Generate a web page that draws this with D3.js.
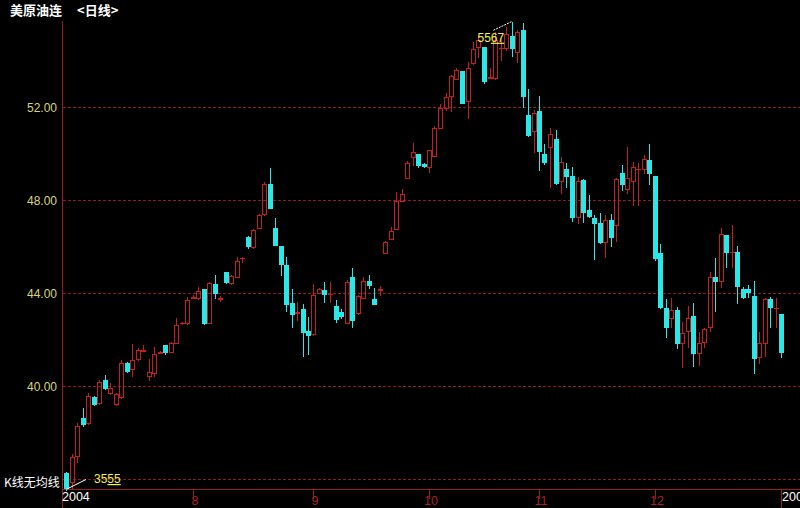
<!DOCTYPE html>
<html><head><meta charset="utf-8">
<script src="https://cdn.jsdelivr.net/npm/d3@7/dist/d3.min.js"></script>
<style>html,body{margin:0;padding:0;background:#000;overflow:hidden}</style>
</head><body><svg id="c" width="800" height="508"></svg>
<script>
const opens=[36.26,35.87,36.99,38.62,38.41,39.53,39.27,40.26,39.70,39.23,39.53,40.99,40.73,41.16,41.52,40.43,40.56,41.44,41.76,41.46,41.85,42.70,42.71,43.80,43.78,44.17,42.71,44.39,43.76,44.90,44.43,44.69,45.50,46.42,45.98,46.79,47.39,48.68,46.79,46.02,45.20,43.57,43.16,43.31,42.36,42.24,44.00,44.13,43.95,43.44,43.18,42.71,44.69,43.14,43.78,44.51,43.74,44.15,45.72,46.32,46.75,47.95,48.94,49.85,49.97,49.54,49.42,49.89,51.09,51.95,52.47,53.20,53.54,52.25,53.89,54.57,54.57,53.26,53.24,54.52,54.53,55.05,54.36,55.31,51.65,50.96,51.82,49.97,50.28,50.62,48.81,49.33,49.03,47.27,48.86,47.57,47.22,47.01,46.19,47.14,46.92,49.16,48.47,48.81,49.32,49.33,49.72,49.03,45.72,43.35,42.92,43.27,41.85,42.36,43.01,41.42,41.89,42.54,44.69,44.51,46.49,45.75,45.76,44.17,44.17,43.87,41.25,41.85,43.74,43.34,43.10];
const highs=[36.30,37.08,38.41,39.05,39.70,39.57,40.26,40.47,40.13,39.70,41.12,41.03,41.81,41.63,41.76,41.16,41.68,41.50,41.76,41.89,42.92,42.74,43.83,43.93,44.26,44.17,44.47,44.77,43.87,44.90,44.77,45.55,45.53,46.45,46.75,47.39,48.77,49.37,47.22,46.02,45.55,44.17,43.61,43.53,42.97,44.39,44.21,44.47,44.47,43.70,43.31,44.56,45.07,43.91,44.69,44.77,44.21,44.30,46.23,46.84,48.34,48.47,49.67,50.45,49.97,49.59,50.15,51.18,52.12,52.60,53.37,53.67,53.54,53.93,54.79,55.05,54.57,53.67,55.22,54.96,55.43,55.67,55.31,55.62,52.77,51.87,52.47,50.40,51.09,51.01,49.85,49.59,49.42,48.99,48.90,48.21,47.35,47.44,47.35,47.39,48.94,49.50,50.28,49.63,49.59,49.93,50.40,49.03,46.10,43.74,43.78,43.40,42.75,43.44,43.57,42.32,42.49,44.90,45.50,46.79,46.49,46.92,46.02,44.26,44.34,44.51,42.32,43.78,43.83,43.78,43.10];
const lows=[35.55,35.61,36.73,38.28,38.37,39.18,39.23,39.87,39.66,39.18,39.48,40.60,40.43,41.12,41.50,40.26,40.43,41.42,41.38,41.46,41.85,42.66,42.67,43.80,43.74,42.67,42.71,43.78,43.66,44.43,44.39,44.69,45.35,45.95,45.93,46.79,47.35,47.65,46.06,44.77,43.22,42.54,42.84,41.29,41.38,42.19,44.00,43.61,43.61,42.75,42.92,42.71,42.54,43.10,43.78,44.21,43.53,43.91,45.72,46.32,46.75,47.95,48.94,49.50,49.42,49.42,49.20,49.89,51.09,51.87,51.82,53.20,52.17,51.52,53.84,54.14,53.03,53.24,53.20,54.02,54.45,54.19,53.93,52.00,50.75,50.06,49.29,49.54,48.56,48.68,48.30,48.56,47.09,47.01,47.05,47.27,45.46,46.15,45.55,46.02,46.23,48.43,48.30,47.78,47.78,49.16,48.68,45.42,43.35,42.11,42.54,41.63,40.82,41.68,40.86,40.90,41.68,42.36,43.22,44.26,45.12,45.12,43.57,43.78,43.83,40.56,40.99,41.29,42.54,42.54,41.25];
const closes=[35.61,36.95,38.28,38.37,39.57,39.23,40.17,39.91,39.91,39.66,40.99,40.64,41.12,41.55,41.54,40.60,41.38,41.46,41.46,41.85,42.62,42.72,43.70,43.83,44.08,42.71,44.43,44.00,43.78,44.47,44.73,45.37,45.52,46.02,46.71,47.35,48.68,47.65,46.06,45.25,43.53,43.10,43.18,42.32,42.21,43.91,44.17,43.96,43.97,42.88,43.01,44.47,42.84,43.87,44.51,44.34,43.53,44.17,46.19,46.66,47.95,48.25,49.59,50.06,49.50,49.46,50.15,51.09,51.95,52.42,53.33,53.59,52.17,53.67,54.49,54.88,53.11,53.28,54.88,54.54,55.13,54.53,55.22,52.47,50.79,51.74,50.10,49.63,50.83,48.73,49.63,49.03,47.27,48.81,47.48,47.31,47.01,46.19,47.14,46.41,48.90,48.68,48.94,49.42,49.34,49.76,49.16,45.50,43.40,42.54,43.27,41.85,42.28,42.92,41.42,41.85,42.45,44.69,44.51,46.53,45.76,45.77,44.30,43.83,44.04,41.20,41.85,43.74,43.40,43.36,41.46];
const gridValues=[36,40,44,48,52];
const labelValues=[40,44,48,52];
const tickIndex=[0,23,45,66,86,107,130];
const tickLabels=["2004","8","9","10","11","12","2005"];
const tickIsYear=[true,false,false,false,false,false,true];
const title="美原油连";
const period="<日线>";
const maNote="K线无均线";

const n=opens.length;
const RED="#c41e1e", CYAN="#2ae8e8", AX="#9a1c1c", GRID="#8a1e1e";
const svg=d3.select("#c");
svg.append("rect").attr("width",800).attr("height",508).attr("fill","#000");

const x=d3.scaleLinear().domain([0,n-1]).range([66,781]);
const y=d3.scaleLinear().domain([d3.min(lows),d3.max(highs)]).range([489.5,21.7]);

// grid
svg.append("g").selectAll("line").data(gridValues).join("line")
  .attr("x1",63).attr("x2",800)
  .attr("y1",d=>Math.round(y(d))+0.5).attr("y2",d=>Math.round(y(d))+0.5)
  .attr("stroke",GRID).attr("stroke-width",1).attr("stroke-dasharray","3,2");

// y labels
svg.append("g").selectAll("text").data(labelValues).join("text")
  .attr("x",57).attr("y",d=>y(d)+4.5).attr("text-anchor","end")
  .attr("font-family","Liberation Sans, Arial, sans-serif").attr("font-size",12)
  .attr("fill","#d8d47c").text(d=>d3.format(".2f")(d));

// axes
svg.append("line").attr("x1",62.5).attr("x2",62.5).attr("y1",21).attr("y2",508)
  .attr("stroke",AX).attr("stroke-width",1);
svg.append("line").attr("x1",62).attr("x2",800).attr("y1",489.5).attr("y2",489.5)
  .attr("stroke",AX).attr("stroke-width",1);

// x ticks
const tg=svg.append("g");
tickIndex.forEach((ti,k)=>{
  const tx=Math.round(x(ti))+0.5;
  if(k>0) tg.append("line").attr("x1",tx).attr("x2",tx).attr("y1",490).attr("y2",tickIsYear[k]?508:499)
    .attr("stroke",AX);
  const t=tg.append("text").attr("font-family","Liberation Sans, Arial, sans-serif").attr("font-size",12.5)
    .text(tickLabels[k]);
  if(tickIsYear[k]){
    t.attr("x",k===0?62:tx+0.5).attr("y",501).attr("fill","#ffffff");
  } else {
    t.attr("x",tx+1.5).attr("y",504.5).attr("text-anchor","middle").attr("fill","#a82222");
  }
});

// candles
const cg=svg.append("g").attr("shape-rendering","crispEdges");
d3.range(n).forEach(i=>{
  const o=opens[i],c=closes[i],h=highs[i],l=lows[i];
  const cx=Math.round(x(i));
  const up=c>=o;
  const col=up?RED:CYAN;
  const yt=Math.round(y(Math.max(o,c))), yb=Math.round(y(Math.min(o,c)));
  const yh=Math.round(y(h)), yl=Math.round(y(l));
  if(yb-yt<1){
    cg.append("line").attr("x1",cx+0.5).attr("x2",cx+0.5).attr("y1",yh).attr("y2",yl+1).attr("stroke",col);
    cg.append("line").attr("x1",cx-2).attr("x2",cx+3).attr("y1",yt+0.5).attr("y2",yt+0.5).attr("stroke",col);
    return;
  }
  if(up){
    if(yh<yt) cg.append("line").attr("x1",cx+0.5).attr("x2",cx+0.5).attr("y1",yh).attr("y2",yt).attr("stroke",col);
    if(yl>yb) cg.append("line").attr("x1",cx+0.5).attr("x2",cx+0.5).attr("y1",yb+1).attr("y2",yl+1).attr("stroke",col);
    cg.append("rect").attr("x",cx-1.5).attr("y",yt+0.5).attr("width",4).attr("height",yb-yt)
      .attr("fill","none").attr("stroke",col);
  } else {
    cg.append("line").attr("x1",cx+0.5).attr("x2",cx+0.5).attr("y1",yh).attr("y2",yl+1).attr("stroke",col);
    cg.append("rect").attr("x",cx-2).attr("y",yt).attr("width",5).attr("height",yb-yt+1).attr("fill",col);
  }
});

// min / max annotations
const iMin=d3.minIndex(lows), iMax=d3.maxIndex(highs);
const fmtAnn=v=>String(Math.round(v*100));
const mx=x(iMin), my=y(lows[iMin]);
svg.append("line").attr("x1",mx+1).attr("y1",my-0.5).attr("x2",mx+20).attr("y2",my-10).attr("stroke","#fff");
const s1=fmtAnn(lows[iMin]);
const t1=svg.append("text").attr("x",mx+28).attr("y",my-6.5).attr("font-family","Liberation Sans, Arial, sans-serif")
  .attr("font-size",12).attr("fill","#f0f050");
t1.append("tspan").text(s1.slice(0,2));
t1.append("tspan").attr("text-decoration","underline").text(s1.slice(2));
const hx=x(iMax), hy=y(highs[iMax]);
svg.append("line").attr("x1",hx).attr("y1",hy).attr("x2",hx-19).attr("y2",hy+9).attr("stroke","#fff").attr("stroke-dasharray","2,1");
const s2=fmtAnn(highs[iMax]);
const t2=svg.append("text").attr("x",hx-34).attr("y",hy+20).attr("font-family","Liberation Sans, Arial, sans-serif")
  .attr("font-size",12).attr("fill","#f0f050");
t2.append("tspan").text(s2.slice(0,2));
t2.append("tspan").attr("text-decoration","underline").text(s2.slice(2));

// titles
svg.append("text").attr("x",10).attr("y",15).attr("font-family","Noto Sans CJK SC").attr("font-weight","bold")
  .attr("font-size",13).attr("fill","#fff").text(title);
svg.append("text").attr("x",77).attr("y",15).attr("font-family","Noto Sans CJK SC").attr("font-weight","bold")
  .attr("font-size",13).attr("fill","#fff").text(period);
svg.append("text").attr("x",4).attr("y",487).attr("font-family","Noto Sans CJK SC")
  .attr("font-size",12).attr("fill","#fff").text(maNote);
</script></body></html>
